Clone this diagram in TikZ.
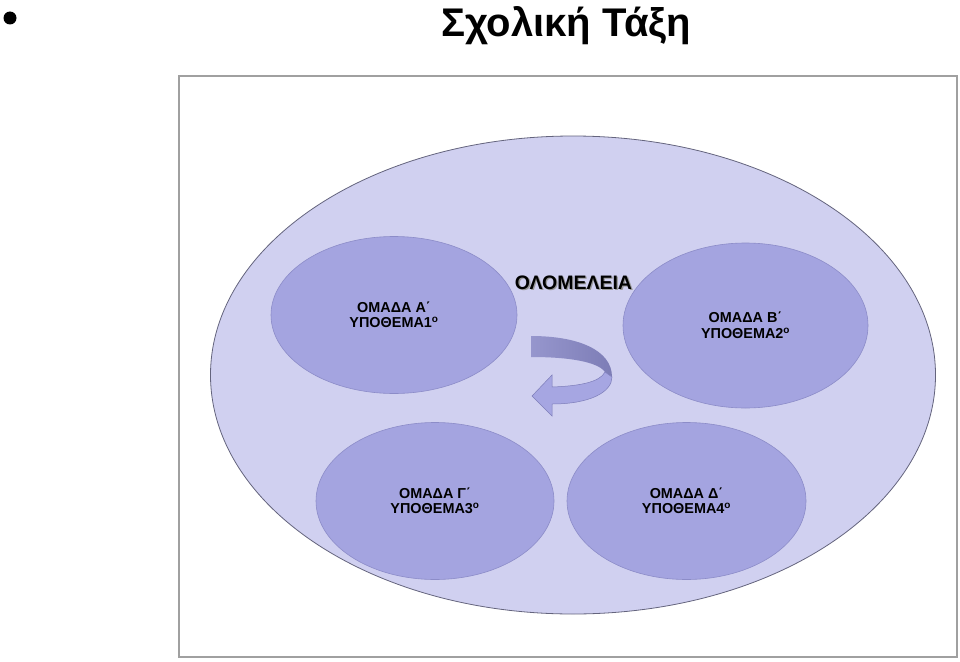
\documentclass[tikz,border=0pt]{standalone}
\usepackage{fontspec}
\setmainfont{Liberation Sans}
\usetikzlibrary{shapes.geometric}
\definecolor{bigfill}{RGB}{208,208,240}
\definecolor{bigline}{RGB}{100,100,125}
\definecolor{grpfill}{RGB}{164,164,224}
\definecolor{grpline}{RGB}{140,140,200}
\definecolor{frameline}{RGB}{160,160,160}
\definecolor{backbandL}{RGB}{150,150,205}
\definecolor{backbandR}{RGB}{125,125,182}
\definecolor{frontband}{RGB}{166,166,226}
\definecolor{bandline}{RGB}{125,125,185}
\tikzset{
  grp/.style={ellipse, fill=grpfill, draw=grpline, line width=0.6pt,
    minimum width=240pt, minimum height=160pt, inner sep=0pt,
    align=center, font=\fontsize{14.4}{15.5}\selectfont\bfseries},
}
\begin{document}
\begin{tikzpicture}[x=1pt,y=-1pt]
\useasboundingbox (0,0) rectangle (960,661);
% bullet and title
\node[circle, fill=black, inner sep=0pt, minimum size=13pt] (bullet) at (10,18) {};
\node[font=\fontsize{40}{40}\selectfont\bfseries, anchor=base] (title) at (566,37) {Σχολική Τάξη};
% frame
\node[draw=frameline, line width=1.2pt, minimum width=778pt, minimum height=581pt, inner sep=0pt] (frame) at (568,366.5) {};
% big ellipse
\node[ellipse, fill=bigfill, draw=bigline, line width=0.8pt, minimum width=725pt, minimum height=478pt, inner sep=0pt] (class) at (573,375) {};
% groups
\node[grp, minimum width=246pt, minimum height=157pt] (ga) at (394,315) {ΟΜΑΔΑ Α΄\\ΥΠΟΘΕΜΑ1\textsuperscript{ο}};
\node[grp, minimum width=245pt, minimum height=165pt] (gb) at (745.5,325.5) {ΟΜΑΔΑ Β΄\\ΥΠΟΘΕΜΑ2\textsuperscript{ο}};
\node[grp, minimum width=238pt, minimum height=157pt] (gc) at (435,501) {ΟΜΑΔΑ Γ΄\\ΥΠΟΘΕΜΑ3\textsuperscript{ο}};
\node[grp, minimum width=239pt, minimum height=157pt] (gd) at (686.5,501) {ΟΜΑΔΑ Δ΄\\ΥΠΟΘΕΜΑ4\textsuperscript{ο}};
% plenary label with shadow
\node[font=\fontsize{19.5}{19.5}\selectfont\bfseries, text=black!40, anchor=base] (plenshadow) at (574.8,290.8) {ΟΛΟΜΕΛΕΙΑ};
\node[font=\fontsize{19.5}{19.5}\selectfont\bfseries, anchor=base] (plenary) at (573.5,289.5) {ΟΛΟΜΕΛΕΙΑ};
% curved arrow
\shade[left color=backbandL, right color=backbandR] (531,336) .. controls (578,336) and (612,350) .. (612,377)
  -- (605,372) .. controls (598,362) and (570,357) .. (531,357) -- cycle;
\filldraw[fill=frontband, draw=bandline, line width=0.5pt]
  (612,377) .. controls (612,392) and (590,404) .. (552,404)
  -- (552,416) -- (532,396) -- (552,375) -- (552,387)
  .. controls (580,386) and (600,382) .. (605,372) -- cycle;
\end{tikzpicture}
\end{document}
